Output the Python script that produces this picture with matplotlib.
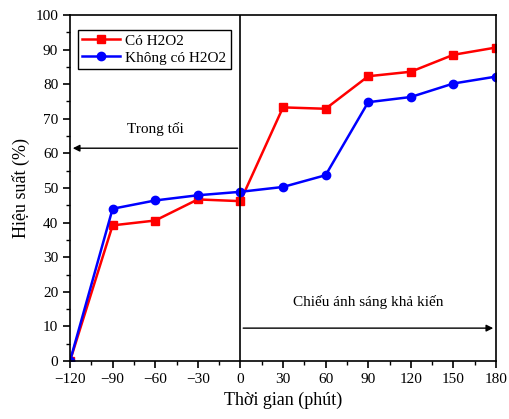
import matplotlib
matplotlib.use('Agg')
from matplotlib import pyplot as plt
from matplotlib.ticker import MultipleLocator

time = [-120, -90, -60, -30, 0, 30, 60, 90, 120, 150, 180]
co_h2o2 = [0, 39.2, 40.6, 46.7, 46.2, 73.3, 72.9, 82.3, 83.6, 88.5, 90.6]
khong_h2o2 = [0, 44.0, 46.4, 47.9, 48.9, 50.3, 53.7, 74.8, 76.3, 80.2, 82.2]

plt.rcParams['font.family'] = ['Liberation Serif', 'DejaVu Serif']

fig = plt.figure(figsize=(5.1, 4.19), dpi=100)
ax = fig.add_axes([70/510, 58/419, 426/510, 346/419])

ax.plot(time, co_h2o2, color='red', marker='s', markersize=6, linewidth=1.8, label='Có H2O2')
ax.plot(time, khong_h2o2, color='blue', marker='o', markersize=6, linewidth=1.8, label='Không có H2O2')

ax.axvline(0, color='black', linewidth=1.2)
ax.annotate('', xy=(-120, 61.5), xytext=(0, 61.5),
            arrowprops=dict(arrowstyle='-|>', color='black', lw=1, mutation_scale=10))
ax.annotate('', xy=(180, 9.5), xytext=(0, 9.5),
            arrowprops=dict(arrowstyle='-|>', color='black', lw=1, mutation_scale=10))
ax.text(-60, 67, 'Trong tối', ha='center', va='center', fontsize=11)
ax.text(90, 17, 'Chiếu ánh sáng khả kiến', ha='center', va='center', fontsize=11)

ax.set_xlim(-120, 180)
ax.set_ylim(0, 100)
ax.xaxis.set_major_locator(MultipleLocator(30))
ax.xaxis.set_minor_locator(MultipleLocator(15))
ax.yaxis.set_major_locator(MultipleLocator(10))
ax.yaxis.set_minor_locator(MultipleLocator(5))
ax.tick_params(which='major', direction='out', length=5, width=1.2, labelsize=11)
ax.tick_params(which='minor', direction='out', length=3, width=1)
for s in ax.spines.values():
    s.set_linewidth(1.2)

ax.set_xlabel('Thời gian (phút)', fontsize=13)
ax.set_ylabel('Hiệu suất (%)', fontsize=13)
ax.legend(loc='upper left', bbox_to_anchor=(0.0, 0.98), fontsize=11, fancybox=False,
          edgecolor='black', framealpha=1, handlelength=2.5, borderpad=0.3,
          labelspacing=0.2, handletextpad=0.3)

fig.savefig('out.png', dpi=100)
